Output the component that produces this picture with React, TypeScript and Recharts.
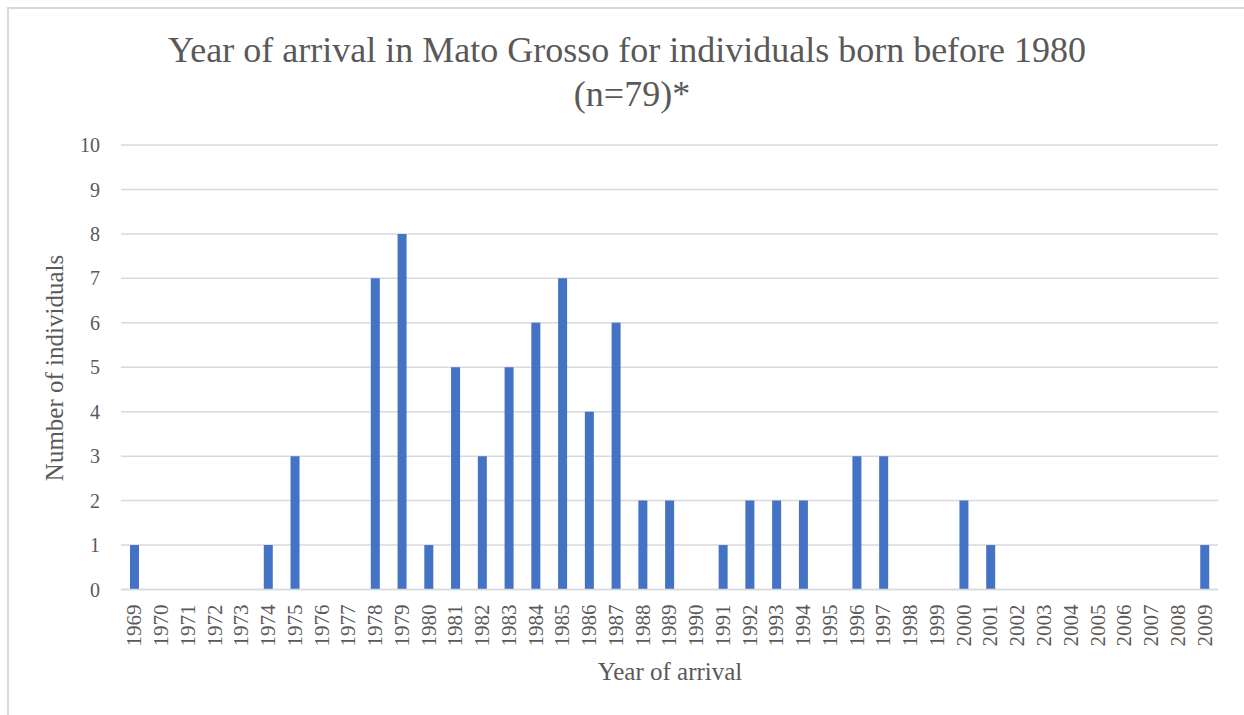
import React from 'react';
import { BarChart, Bar, XAxis, YAxis, CartesianGrid } from 'recharts';

const years: string[] = [
  '1969', '1970', '1971', '1972', '1973', '1974', '1975', '1976', '1977', '1978',
  '1979', '1980', '1981', '1982', '1983', '1984', '1985', '1986', '1987', '1988',
  '1989', '1990', '1991', '1992', '1993', '1994', '1995', '1996', '1997', '1998',
  '1999', '2000', '2001', '2002', '2003', '2004', '2005', '2006', '2007', '2008', '2009',
];
const counts: number[] = [
  1, 0, 0, 0, 0, 1, 3, 0, 0, 7,
  8, 1, 5, 3, 5, 6, 7, 4, 6, 2,
  2, 0, 1, 2, 2, 2, 0, 3, 3, 0,
  0, 2, 1, 0, 0, 0, 0, 0, 0, 0, 1,
];
const yTicks: number[] = [0, 1, 2, 3, 4, 5, 6, 7, 8, 9, 10];

const titleLine1 = 'Year of arrival in Mato Grosso for individuals born before 1980';
const titleLine2 = '(n=79)*';
const yLabel = 'Number of individuals';
const xLabel = 'Year of arrival';

const data = years.map((y, i) => ({ year: y, count: counts[i] }));

const FONT = "'Liberation Serif', 'Times New Roman', serif";
const TEXT = '#595959';

const XTick = (props: any) => {
  const { x, y, payload } = props;
  return (
    <text
      x={x}
      y={y + 15}
      dy="0.33em"
      transform={`rotate(-90, ${x}, ${y + 15})`}
      textAnchor="end"
      fill={TEXT}
      fontSize={21}
      fontFamily={FONT}
    >
      {payload.value}
    </text>
  );
};

export default function App() {
  return (
    <div style={{ position: 'absolute', left: 0, top: 0, width: 1244, height: 715, overflow: 'hidden', background: '#fff' }}>
      <div
        style={{
          position: 'absolute', left: 7, top: 7, width: 1240, height: 712,
          borderTop: '2px solid #d9d9d9', borderLeft: '2px solid #d9d9d9', boxSizing: 'border-box',
        }}
      />
      <div style={{ position: 'absolute', left: 9, top: 9 }}>
        <BarChart
          width={1235}
          height={706}
          data={data}
          margin={{ top: 136, right: 26, bottom: 55.5, left: 52 }}
          barSize={9}
        >
          <CartesianGrid vertical={false} stroke="#d9d9d9" strokeWidth={1.5} />
          <XAxis
            dataKey="year"
            interval={0}
            tickLine={false}
            axisLine={{ stroke: '#d9d9d9', strokeWidth: 1.5 }}
            tickSize={0}
            tickMargin={0}
            height={70}
            tick={<XTick />}
          />
          <YAxis
            domain={[0, 10]}
            ticks={yTicks}
            interval={0}
            width={60}
            tickLine={false}
            axisLine={false}
            tickSize={0}
            tickMargin={21}
            tick={{ fill: TEXT, fontSize: 20, fontFamily: FONT }}
          />
          <Bar dataKey="count" fill="#4472c4" isAnimationActive={false} />
        </BarChart>
      </div>
      <svg
        width={1244}
        height={715}
        style={{ position: 'absolute', left: 0, top: 0, pointerEvents: 'none' }}
      >
        <text x={627} y={62} textAnchor="middle" fill={TEXT} fontSize={36} fontFamily={FONT}>
          {titleLine1}
        </text>
        <text x={632} y={106} textAnchor="middle" fill={TEXT} fontSize={36} fontFamily={FONT}>
          {titleLine2}
        </text>
        <text
          x={63}
          y={368}
          textAnchor="middle"
          transform="rotate(-90, 63, 368)"
          fill={TEXT}
          fontSize={25}
          fontFamily={FONT}
        >
          {yLabel}
        </text>
        <text x={670} y={680} textAnchor="middle" fill={TEXT} fontSize={25} fontFamily={FONT}>
          {xLabel}
        </text>
      </svg>
    </div>
  );
}
